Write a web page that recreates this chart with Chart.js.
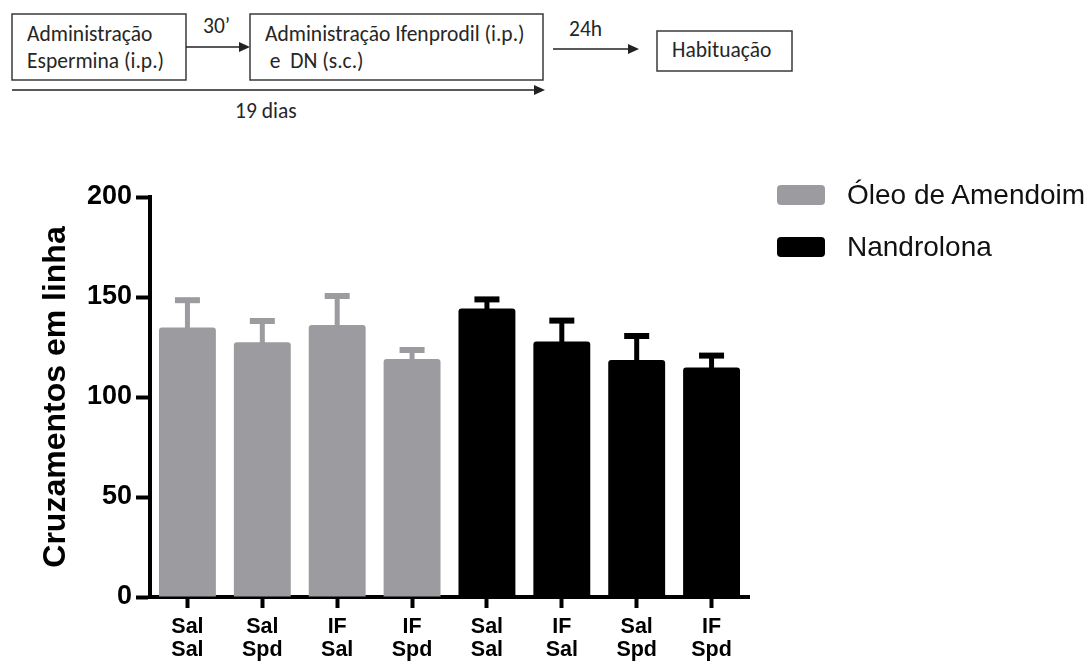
<!DOCTYPE html>
<html>
<head>
<meta charset="utf-8">
<script src="https://cdn.jsdelivr.net/npm/chart.js@4.4.1/dist/chart.umd.min.js"></script>
<style>
  html, body { margin: 0; padding: 0; background: #ffffff; }
  #wrap { position: relative; width: 1088px; height: 661px; overflow: hidden; background: #fff; }
  #chart { position: absolute; left: 0; top: 0; }
  #protocol { position: absolute; left: 0; top: 0; }
  #protocol text { font-family: Carlito, Lato, "Open Sans", sans-serif; font-size: 21.5px; fill: #262626; white-space: pre; }
  .legend-row { position: absolute; left: 777px; height: 30px; display: flex; align-items: center; }
  .legend-swatch { width: 48px; height: 20px; border-radius: 4px; margin-right: 22px; }
  .legend-text { font-family: "Liberation Sans", Arial, sans-serif; font-size: 28px; color: #111; white-space: nowrap; }
</style>
</head>
<body>
<div id="wrap">
  <!-- protocol timeline -->
  <svg id="protocol" width="1088" height="130" xmlns="http://www.w3.org/2000/svg">
    <rect x="12" y="14" width="174" height="66" fill="none" stroke="#3a3a3a" stroke-width="1.5"/>
    <text x="27" y="41">Administração</text>
    <text x="27" y="68">Espermina (i.p.)</text>

    <line x1="186" y1="47" x2="241" y2="47" stroke="#222" stroke-width="1.6"/>
    <polygon points="250,47 239,42 239,52" fill="#222"/>
    <text x="203" y="33">30’</text>

    <rect x="250" y="14" width="293" height="66" fill="none" stroke="#3a3a3a" stroke-width="1.5"/>
    <text x="265" y="41">Administração Ifenprodil (i.p.)</text>
    <text x="265" y="68"> e  DN (s.c.)</text>

    <line x1="553" y1="49" x2="630" y2="49" stroke="#222" stroke-width="1.6"/>
    <polygon points="639,49 628,44 628,54" fill="#222"/>
    <text x="569" y="36">24h</text>

    <rect x="657" y="31" width="135" height="40" fill="none" stroke="#3a3a3a" stroke-width="1.5"/>
    <text x="672" y="57">Habituação</text>

    <line x1="12" y1="90" x2="536" y2="90" stroke="#222" stroke-width="1.6"/>
    <polygon points="545,90 534,85 534,95" fill="#222"/>
    <text x="235" y="118">19 dias</text>
  </svg>

  <canvas id="chart" width="1088" height="661"></canvas>
  <div id="legend"></div>
</div>

<script>
// Treatment labels (first line / second line of each x label)
const treatmentTop    = ['Sal', 'Sal', 'IF', 'IF', 'Sal', 'IF', 'Sal', 'IF'];
const treatmentBottom = ['Sal', 'Spd', 'Sal', 'Spd', 'Sal', 'Sal', 'Spd', 'Spd'];

// Peanut-oil (vehicle) groups: mean and SEM
const oilMean = [134.7, 127.4, 136.0, 119.0];
const oilSem  = [13.7, 10.6, 14.5, 4.5];

// Nandrolone groups: mean and SEM
const nandMean = [144.3, 127.7, 118.5, 114.8];
const nandSem  = [4.5, 10.5, 12.0, 5.9];

const yTicks = [0, 50, 100, 150, 200];
const seriesNames = ['Óleo de Amendoim', 'Nandrolona'];
const seriesColors = ['#9c9ca0', '#000000'];

const labels = treatmentTop.map((t, i) => [t, treatmentBottom[i]]);
const pad = n => new Array(n).fill(null);

const oilData  = oilMean.concat(pad(nandMean.length));
const oilErr   = oilSem.concat(pad(nandSem.length));
const nandData = pad(oilMean.length).concat(nandMean);
const nandErr  = pad(oilSem.length).concat(nandSem);

// draws one-sided (upper) SEM bars in the colour of each bar
const errorBars = {
  id: 'errorBars',
  beforeDatasetsDraw(chart) {
    const ctx = chart.ctx;
    const y = chart.scales.y;
    chart.data.datasets.forEach((ds, i) => {
      const meta = chart.getDatasetMeta(i);
      meta.data.forEach((bar, j) => {
        const m = ds.data[j], e = ds.errors[j];
        if (m == null || e == null) return;
        const top = y.getPixelForValue(m + e);
        const base = y.getPixelForValue(m);
        ctx.save();
        ctx.strokeStyle = ds.backgroundColor;
        ctx.lineWidth = 5;
        ctx.beginPath();
        ctx.moveTo(bar.x, base + 2);
        ctx.lineTo(bar.x, top);
        ctx.stroke();
        ctx.lineWidth = 6;
        ctx.beginPath();
        ctx.moveTo(bar.x - 12.5, top);
        ctx.lineTo(bar.x + 12.5, top);
        ctx.stroke();
        ctx.restore();
      });
    });
  }
};

const boldFont = size => ({ family: "'Liberation Sans', Arial, Helvetica, sans-serif", weight: 'bold', size });

new Chart(document.getElementById('chart'), {
  type: 'bar',
  data: {
    labels,
    datasets: [
      { label: seriesNames[0], data: oilData, errors: oilErr, backgroundColor: seriesColors[0] },
      { label: seriesNames[1], data: nandData, errors: nandErr, backgroundColor: seriesColors[1] }
    ]
  },
  plugins: [errorBars],
  options: {
    responsive: false,
    animation: false,
    layout: { padding: { left: 0, top: 197, right: 339, bottom: 0 } },
    plugins: { legend: { display: false }, tooltip: { enabled: false } },
    datasets: {
      bar: {
        grouped: false,
        categoryPercentage: 1,
        barPercentage: 0.76,
        borderRadius: { topLeft: 3, topRight: 3, bottomLeft: 0, bottomRight: 0 },
        borderSkipped: 'start'
      }
    },
    scales: {
      x: {
        offset: true,
        grid: { display: true, offset: false, drawOnChartArea: false, drawTicks: true, tickLength: 11, tickWidth: 4, tickColor: '#000' },
        border: { display: true, color: '#000', width: 4 },
        ticks: { color: '#000', font: { ...boldFont(21.5), lineHeight: 1.08 }, padding: 7, maxRotation: 0, autoSkip: false },
        afterFit(s) { s.height = 64; }
      },
      y: {
        min: 0,
        max: 200,
        afterBuildTicks(s) { s.ticks = yTicks.map(v => ({ value: v })); },
        grid: { display: true, drawOnChartArea: false, drawTicks: true, tickLength: 14, tickWidth: 4, tickColor: '#000' },
        border: { display: true, color: '#000', width: 4 },
        ticks: { color: '#000', font: boldFont(27), padding: 4 },
        title: { display: true, text: 'Cruzamentos em linha', color: '#000', font: boldFont(32), padding: { top: 37, bottom: 0 } },
        afterFit(s) { s.width = 150; }
      }
    }
  }
});

// legend built from the series names and colours
const legendEl = document.getElementById('legend');
const legendRowTop = [180, 232];
seriesNames.forEach((name, i) => {
  const row = document.createElement('div');
  row.className = 'legend-row';
  row.style.top = legendRowTop[i] + 'px';
  const sw = document.createElement('div');
  sw.className = 'legend-swatch';
  sw.style.background = seriesColors[i];
  const tx = document.createElement('span');
  tx.className = 'legend-text';
  tx.textContent = name;
  row.appendChild(sw);
  row.appendChild(tx);
  legendEl.appendChild(row);
});
</script>
</body>
</html>
